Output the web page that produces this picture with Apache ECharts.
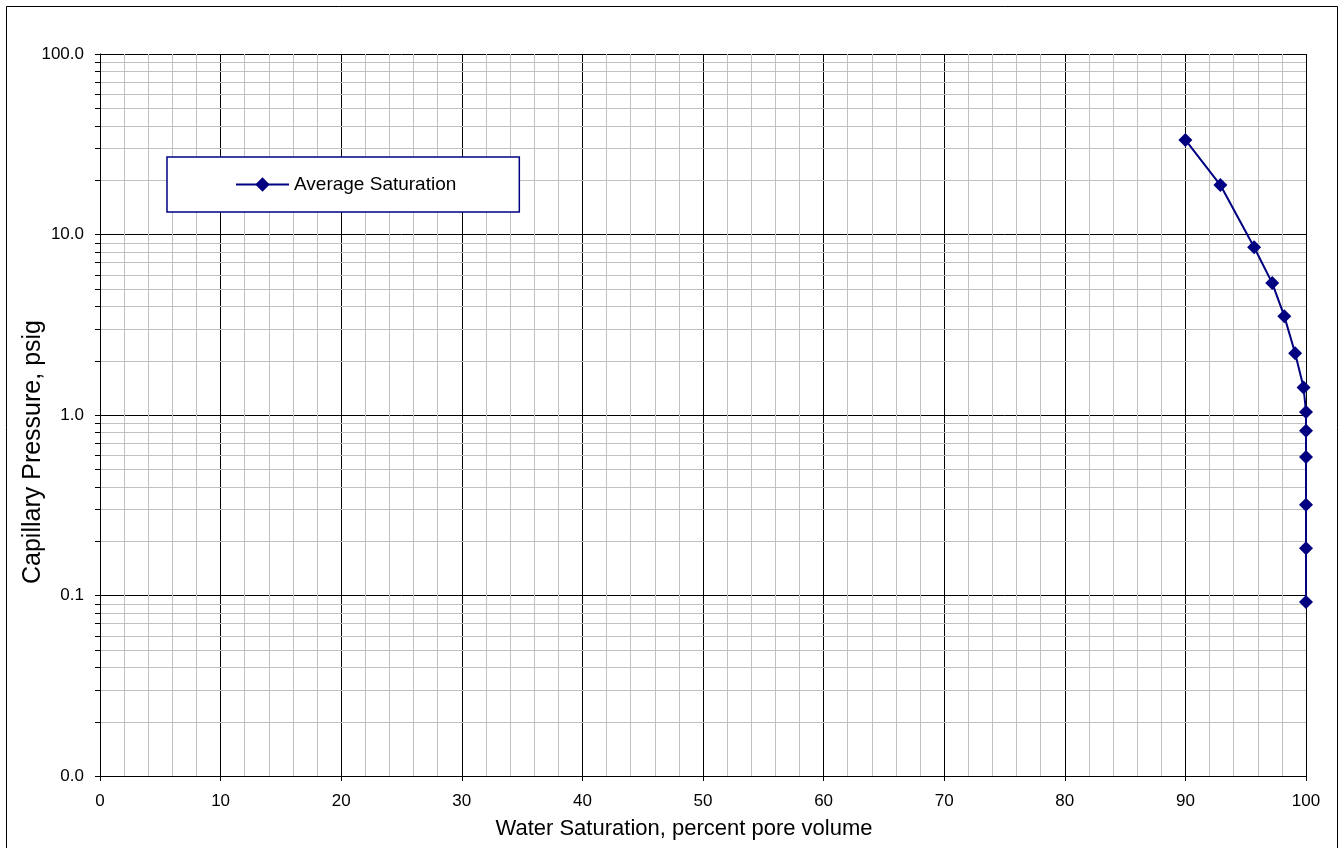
<!DOCTYPE html>
<html>
<head>
<meta charset="utf-8">
<script src="https://cdn.jsdelivr.net/npm/echarts@6/dist/echarts.min.js"></script>
<style>html,body{margin:0;padding:0;background:#fff;}#c{width:1343px;height:848px;}</style>
</head>
<body>
<div id="c"></div>
<script>
// Data
const waterSaturation = [90.0, 92.9, 95.7, 97.2, 98.2, 99.1, 99.8, 100, 100, 100, 100, 100, 100];
const capillaryPressure = [33.4, 18.8, 8.5, 5.38, 3.53, 2.2, 1.42, 1.04, 0.817, 0.586, 0.318, 0.183, 0.092];
const seriesName = 'Average Saturation';
const xTitle = 'Water Saturation, percent pore volume';
const yTitle = 'Capillary Pressure, psig';
const yDecades = [0.01, 0.1, 1, 10];
const yMinorMultipliers = [2, 3, 4, 5, 6, 7, 8, 9];

const minorY = [];
yDecades.forEach(d => yMinorMultipliers.forEach(m => minorY.push([0, +(d * m).toPrecision(3)])));

const chart = echarts.init(document.getElementById('c'), null, {renderer: 'canvas'});
const FONT = 'Liberation Sans, Arial, sans-serif';
chart.setOption({
  animation: false,
  backgroundColor: '#fff',
  graphic: [{
    type: 'rect', z: -10, silent: true,
    shape: {x: 6.5, y: 6.5, width: 1331, height: 850},
    style: {fill: 'none', stroke: '#000', lineWidth: 1}
  }],
  grid: {left: 100, top: 54, width: 1206, height: 722, containLabel: false, outerBoundsMode: 'none'},
  legend: {
    data: [seriesName],
    left: 167, top: 157,
    orient: 'horizontal',
    padding: [18, 63, 18, 68],
    itemWidth: 53, itemHeight: 18,
    itemGap: 5,
    borderColor: '#000080', borderWidth: 1.5,
    backgroundColor: '#fff',
    lineStyle: {width: 2},
    textStyle: {fontFamily: FONT, fontSize: 19, color: '#000'}
  },
  xAxis: {
    type: 'value', min: 0, max: 100, interval: 10,
    name: xTitle, nameLocation: 'middle', nameGap: 42, nameMoveOverlap: false,
    nameTextStyle: {fontFamily: FONT, fontSize: 22, color: '#000', padding: [0, 38, 0, 0]},
    axisLine: {show: true, onZero: false, lineStyle: {color: '#000', width: 1}},
    axisTick: {show: true, length: 5, inside: false, lineStyle: {color: '#000'}},
    axisLabel: {fontFamily: FONT, fontSize: 17, color: '#000', margin: 17},
    splitLine: {show: true, lineStyle: {color: '#000', width: 1}},
    minorTick: {show: false, splitNumber: 5},
    minorSplitLine: {show: true, lineStyle: {color: '#c0c0c0', width: 1}}
  },
  yAxis: {
    type: 'log', logBase: 10, min: 0.01, max: 100, splitNumber: 4,
    name: yTitle, nameLocation: 'middle', nameGap: 54, nameRotate: 90, nameMoveOverlap: false,
    nameTextStyle: {fontFamily: FONT, fontSize: 25, color: '#000', padding: [0, 74, 0, 0]},
    axisLine: {show: true, lineStyle: {color: '#000', width: 1}},
    axisTick: {show: true, length: 5, inside: false, lineStyle: {color: '#000'}},
    axisLabel: {fontFamily: FONT, fontSize: 17, color: '#000', margin: 16,
      formatter: v => Number(v).toFixed(1)},
    splitLine: {show: true, lineStyle: {color: '#000', width: 1}}
  },
  series: [
    {
      type: 'custom',
      name: 'minor',
      coordinateSystem: 'cartesian2d',
      data: minorY,
      z: 1,
      silent: true,
      clip: false,
      renderItem: function (params, api) {
        const cs = params.coordSys;
        const p = api.coord([0, api.value(1)]);
        const y = Math.round(p[1]) + 0.5;
        return {
          type: 'group',
          children: [
            {type: 'line', shape: {x1: cs.x + 1, y1: y, x2: cs.x + cs.width, y2: y},
             style: {stroke: '#c0c0c0', lineWidth: 1}},
            {type: 'line', shape: {x1: cs.x - 5, y1: y, x2: cs.x, y2: y},
             style: {stroke: '#000', lineWidth: 1}}
          ]
        };
      }
    },
    {
      type: 'line',
      name: seriesName,
      data: waterSaturation.map((x, i) => [x, capillaryPressure[i]]),
      z: 5,
      clip: false,
      symbol: 'diamond',
      symbolSize: 14,
      lineStyle: {color: '#000080', width: 2},
      itemStyle: {color: '#000080'}
    }
  ]
});
</script>
</body>
</html>
